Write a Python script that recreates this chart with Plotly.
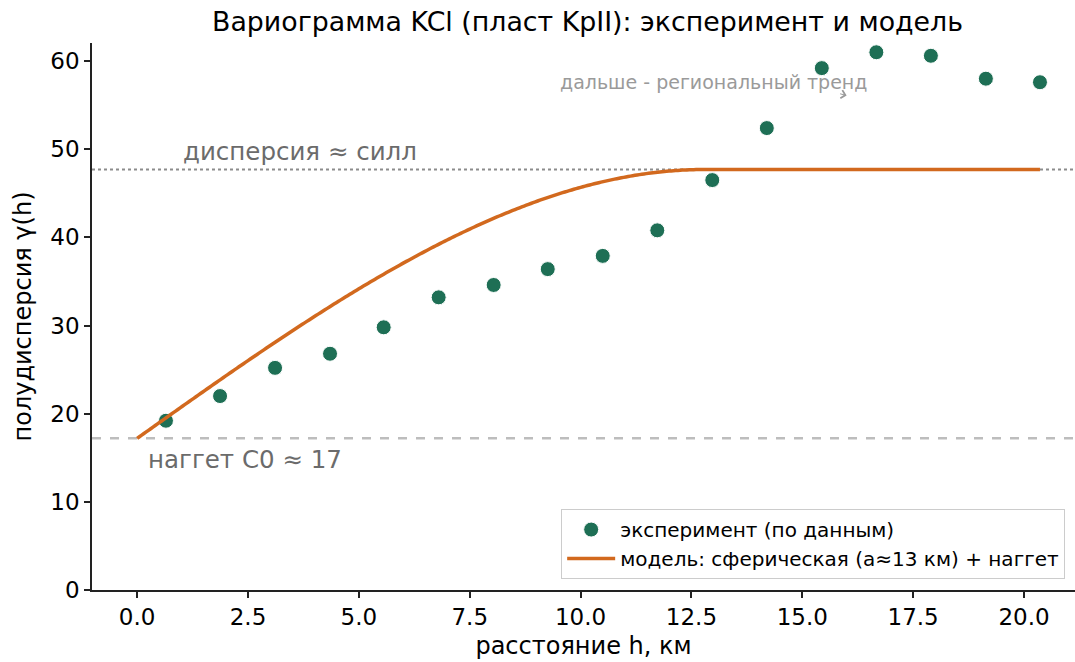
import numpy as np
import plotly.graph_objects as go

lag_km = [0.65, 1.87, 3.11, 4.35, 5.56, 6.80, 8.04, 9.26, 10.50, 11.73,
          12.97, 14.20, 15.44, 16.67, 17.90, 19.14, 20.36]
gamma_exp = [19.2, 22.0, 25.2, 26.8, 29.8, 33.2, 34.6, 36.4, 37.9, 40.8,
             46.5, 52.4, 59.2, 61.0, 60.6, 58.0, 57.6]

# spherical model parameters
nugget = 17.2
sill = 47.7
range_a = 12.8

h_model = np.linspace(0, max(lag_km), 400)
r = np.clip(h_model / range_a, 0, 1)
gamma_model = nugget + (sill - nugget) * (1.5 * r - 0.5 * r ** 3)

x_ticks = [0.0, 2.5, 5.0, 7.5, 10.0, 12.5, 15.0, 17.5, 20.0]
y_ticks = [0, 10, 20, 30, 40, 50, 60]

FONT = "DejaVu Sans"
x_range = [-1.018, 21.15]

fig = go.Figure()

# horizontal reference lines
fig.add_trace(go.Scatter(x=x_range, y=[sill, sill], mode="lines",
                         line=dict(color="#8c8c8c", width=2, dash="dot"),
                         showlegend=False, hoverinfo="skip"))
fig.add_trace(go.Scatter(x=x_range, y=[nugget, nugget], mode="lines",
                         line=dict(color="#bdbdbd", width=2.5, dash="dash"),
                         showlegend=False, hoverinfo="skip"))

fig.add_trace(go.Scatter(x=lag_km, y=gamma_exp, mode="markers",
                         name="эксперимент (по данным)",
                         marker=dict(color="#1e6f55", size=15,
                                     line=dict(color="white", width=1))))
fig.add_trace(go.Scatter(x=h_model, y=gamma_model, mode="lines",
                         name="модель: сферическая (a≈13 км) + наггет",
                         line=dict(color="#d2691e", width=3.5, simplify=False)))

fig.add_annotation(x=1.0, y=sill + 0.2, text="дисперсия ≈ силл", showarrow=False,
                   xanchor="left", yanchor="bottom",
                   font=dict(family=FONT, size=24.5, color="#6b6b6b"))
fig.add_annotation(x=0.2, y=nugget - 0.5, text="наггет C0 ≈ 17", showarrow=False,
                   xanchor="left", yanchor="top",
                   font=dict(family=FONT, size=24.5, color="#6b6b6b"))
fig.add_annotation(x=9.5, y=57.6, text="дальше - региональный тренд", showarrow=False,
                   xanchor="left", yanchor="middle",
                   font=dict(family=FONT, size=19, color="#9a9a9a"))
fig.add_annotation(x=16.0, y=56.1, text="", showarrow=True, ax=-8, ay=-2,
                   arrowhead=4, arrowsize=1.6, arrowwidth=1, arrowcolor="#9a9a9a")

axis_common = dict(showgrid=False, zeroline=False, showline=True, automargin=False,
                   linecolor="#222222", linewidth=1.5, ticks="outside",
                   ticklen=6, tickwidth=1.5, tickcolor="#222222",
                   tickfont=dict(family=FONT, size=23, color="#000000"))

fig.update_layout(
    template="none",
    width=1075, height=662,
    margin=dict(l=92, r=0, t=43, b=72),
    plot_bgcolor="white", paper_bgcolor="white",
    font=dict(family=FONT, color="#000000"),
    title=dict(text="Вариограмма KCl (пласт KpII): эксперимент и модель",
               x=587.5 / 1075, xanchor="center", xref="container",
               y=1 - 22 / 662, yanchor="middle",
               font=dict(family=FONT, size=26.8, color="#000000")),
    legend=dict(x=0.99, y=0.02, xanchor="right", yanchor="bottom",
                bgcolor="white", bordercolor="#cccccc", borderwidth=1,
                font=dict(family=FONT, size=20, color="#000000"),
                itemwidth=48),
    showlegend=True,
)
fig.update_xaxes(range=x_range, tickvals=x_ticks,
                 ticktext=[f"{v:.1f}" for v in x_ticks],
                 title=dict(text="расстояние h, км",
                            font=dict(family=FONT, size=24), standoff=8),
                 **axis_common)
fig.update_yaxes(range=[0, 62.05], tickvals=y_ticks,
                 title=dict(text="полудисперсия γ(h)",
                            font=dict(family=FONT, size=24), standoff=12),
                 **axis_common)

fig.write_html("out.html",
               config={"displayModeBar": False},
               post_script="document.body.style.margin='0';"
                           "document.body.style.padding='0';"
                           "document.body.style.overflow='hidden';")
